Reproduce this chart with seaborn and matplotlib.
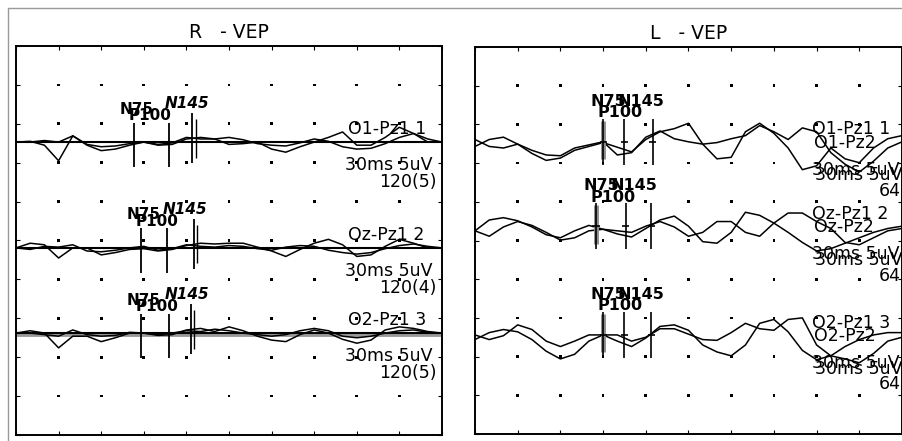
import numpy as np
import pandas as pd
import matplotlib
matplotlib.use("Agg")
import matplotlib.pyplot as plt
from matplotlib.lines import Line2D
import seaborn as sns

# ---------------- data ----------------
times = list(range(0, 301, 10))          # ms, 30 ms / division
UV_PER_DIV = 5                            # 5 uV / division

# Right eye (R - VEP), two sweeps per channel, values in uV
R_O1_a = [0, 0.1, -0.4, -2.4, 0.8, -0.4, -1.1, -0.9, -0.4, 0, -0.4, -0.3, 0.4, 0.6, 0.4, -0.3,
          -0.2, 0, -0.9, -1.3, -0.6, 0, 0.6, 1.3, -0.4, -0.4, 0.6, 1.9, 1.1, 0, 0]
R_O1_b = [0, 0, 0.2, 0, 0.8, -0.3, -0.6, -0.5, -0.2, 0, -0.3, -0.1, 0.6, 0.4, 0.4, 0.6,
          0.3, -0.2, -0.4, -0.5, -0.1, 0.4, 0.1, -0.6, -0.9, -0.8, -0.2, 0.6, 1.1, 0.4, 0]
R_Oz_a = [0, 0.6, 0.4, -1.3, 0, 0, -0.9, -0.6, -0.2, -0.1, -0.4, -0.2, 0.3, 0.6, 0.5, 0.6,
          0.6, 0.1, -0.4, -1.1, -0.2, 0.6, 1.1, 0.4, -1.1, -0.9, 0.2, 1.1, 0.6, 0, 0]
R_Oz_b = [0, -0.2, 0.2, 0.1, 0.4, -0.4, -0.5, -0.3, 0, 0.2, -0.3, -0.1, 0.4, 0.2, 0.1, 0.3,
          0.2, -0.1, -0.3, 0.1, 0.3, 0.2, -0.3, -0.6, -0.8, -0.6, -0.1, 0.3, 0.5, 0.2, 0]
R_O2_a = [0, 0.3, 0, -1.9, -0.4, -0.4, -1.1, -0.6, 0, 0, -0.3, -0.2, 0.4, 0.6, 0.2, 0.8,
          0.3, -0.4, -0.9, -1.1, -0.2, 0.4, 0, -0.8, -1.3, -0.9, 0.4, 0.8, 0.6, 0.2, 0]
R_O2_b = [0, 0, -0.2, -0.4, 0.4, -0.2, -0.4, -0.3, 0.1, 0, -0.2, 0, 0.3, 0.2, 0.5, 0.3,
          0, -0.2, -0.4, -0.2, 0.3, 0.6, 0.3, -0.4, -0.6, -0.4, 0, 0.3, 0.4, 0.1, 0]

# Left eye (L - VEP)
L_O1_a = [-0.6, 0.3, 0.6, -0.3, -1.5, -2.4, -2.1, -1.1, -0.6, -0.1, -0.7, -1.3, 0.3, 1.3, 1.7, 2.4,
          -0.3, -2.2, -2.0, 1.3, 2.4, 1.1, -0.8, -3.6, -3.1, -0.8, -2.2, -2.7, -0.8, 0.4, 0.8]
L_O1_b = [0.3, -0.6, -0.8, -0.3, -1.1, -1.7, -1.8, -0.8, -0.4, 0, -1.7, -1.4, 0.6, 1.4, 0.4, 0,
          -0.3, -0.1, 0.4, 0.8, 2.1, 1.3, 0.3, 1.8, 1.3, -1.4, -2.9, -3.9, -2.5, -0.8, 0]
L_Oz_a = [-0.6, 0.8, 1.1, 0.7, -0.1, -1.1, -1.5, -0.6, 0.1, -0.4, -1.0, -1.4, -0.3, 0.8, 1.3, 0,
          -2.0, -2.2, -0.8, 1.8, 1.4, 0.4, -0.8, -2.1, -3.2, -2.9, -2.2, -1.5, -0.8, -0.3, 0]
L_Oz_b = [-0.6, -1.3, -0.1, 0.6, 0.1, -0.8, -1.8, -1.5, -0.6, -0.4, -0.6, -0.8, 0, 0.6, -0.1, -1.3,
          -0.8, 0.6, 0.6, -0.8, -1.3, 0.4, 1.7, 1.7, 0.6, -0.3, -2.1, -2.4, -1.5, -0.6, -0.3]
L_O2_a = [-0.6, 0.3, 0.7, 0.4, -0.6, -2.1, -3.1, -2.5, -0.8, 0, -0.8, -1.5, -0.4, 1.1, 1.3, 0.6,
          -1.3, -2.2, -2.7, -1.3, 1.5, 2.0, 0.4, -2.0, -3.2, -2.7, -1.5, -0.6, 0, 0.3, 0.3]
L_O2_b = [0, -0.6, -0.1, 1.3, 0.7, -0.8, -1.5, -0.8, 0, 0, 0, -0.8, -0.3, 0.8, 0.8, 0.1,
          -0.6, -0.7, 0.3, 1.5, 0.8, 0.6, 2.0, 2.2, -1.3, -2.7, -3.1, -3.6, -2.4, -0.8, -0.3]

# trace baselines (in divisions from the bottom)
R_baselines = [7.53, 4.81, 2.62]
L_baselines = [7.55, 5.37, 2.56]

# marker latencies (ms) for N75, P100, N145
R_latencies = [[83, 108, 124], [88, 106, 125], [88, 108, 123]]
L_latencies = [[90, 105, 125], [85, 106, 124], [90, 105, 124]]
peak_names = ["N75", "P100", "N145"]

R_channels = ["O1-Pz1 1", "Oz-Pz1 2", "O2-Pz1 3"]
L_channels = ["O1-Pz1 1", "Oz-Pz1 2", "O2-Pz1 3"]
L_channels2 = ["O1-Pz2", "Oz-Pz2", "O2-Pz2"]
R_counts = ["120(5)", "120(4)", "120(5)"]
L_counts = ["64", "64", "64"]
scale_label = "30ms 5uV"

# ---------------- figure ----------------
sns.set_theme(style="white")
plt.rcParams["font.family"] = ["DejaVu Sans"]
plt.rcParams["text.color"] = "black"

W, H = 903, 441
fig = plt.figure(figsize=(W / 100, H / 100), dpi=100)
fig.patch.set_facecolor("white")

def fx(px):
    return px / W

def fy(py):
    return 1 - py / H

axL = fig.add_axes([fx(16), fy(435), 426 / W, 389 / H])
axR = fig.add_axes([fx(475), fy(434), 427 / W, 387 / H])

# outer gray frame
fig.add_artist(Line2D([fx(8), 1], [fy(8), fy(8)], color="0.6", lw=1))
fig.add_artist(Line2D([fx(8), fx(8)], [fy(8), 0], color="0.6", lw=1))


def build_df(traces, baselines):
    rows = []
    for ch, (a, b) in enumerate(traces):
        for name, vals in (("a", a), ("b", b)):
            for t, v in zip(times, vals):
                rows.append({"time": t, "y": baselines[ch] + v / UV_PER_DIV,
                             "trace": f"{ch}{name}"})
    return pd.DataFrame(rows)


def style_axes(ax):
    ax.set_xlim(0, 300)
    ax.set_ylim(0, 10)
    ax.set_xticks(np.arange(0, 301, 30))
    ax.set_yticks(np.arange(0, 11, 1))
    ax.tick_params(direction="in", length=3, width=0.8, color="black",
                   top=True, right=True, bottom=True, left=True,
                   labelbottom=False, labelleft=False)
    for s in ax.spines.values():
        s.set_color("black")
        s.set_linewidth(1.4)
    gx, gy = np.meshgrid(np.arange(30, 300, 30), np.arange(1, 10, 1))
    dots = pd.DataFrame({"x": gx.ravel(), "y": gy.ravel()})
    sns.scatterplot(data=dots, x="x", y="y", marker="s", s=4, color="black",
                    edgecolor="none", ax=ax, zorder=1)
    ax.set_xlabel("")
    ax.set_ylabel("")


def ctext(ax, x, y, s, **kw):
    t = ax.text(x, y, s, va="center", ha="left", color="black", **kw)
    t.set_clip_box(ax.bbox)
    t.set_clip_on(True)
    return t


# ---------- R panel ----------
style_axes(axL)
dfR = build_df([(R_O1_a, R_O1_b), (R_Oz_a, R_Oz_b), (R_O2_a, R_O2_b)], R_baselines)
for i, b in enumerate(R_baselines):
    if i == 2:
        axL.axhline(b - 0.03, color="0.6", lw=3.5, zorder=1.5)
    axL.axhline(b, color="black", lw=1.5, zorder=2)
sns.lineplot(data=dfR, x="time", y="y", units="trace", estimator=None,
             color="black", lw=1.1, ax=axL, zorder=3, legend=False)
axL.set_xlabel("")
axL.set_ylabel("")
axL.set_title("R   - VEP", fontsize=13.5, pad=6, color="black")

for ch in range(3):
    b = R_baselines[ch]
    lat = R_latencies[ch]
    for j, t in enumerate(lat):
        up, dn = (0.5, 0.65) if j < 2 else (0.75, 0.55)
        axL.vlines(t, b - dn, b + up, color="black", lw=1.3, zorder=4)
        axL.hlines(b, t - 2.5, t + 2.5, color="black", lw=1.3, zorder=4)
    axL.vlines(lat[2] + 2.5, b - 0.4, b + 0.6, color="black", lw=1.0, zorder=4)
    ty = b + 0.9
    ctext(axL, lat[0] - 10, ty - 0.05, peak_names[0], fontsize=11, fontweight="bold")
    ctext(axL, lat[0] - 4, ty - 0.22, peak_names[1], fontsize=11, fontweight="bold")
    ctext(axL, lat[1] - 3, ty + 0.08, peak_names[2], fontsize=11, fontweight="bold",
          style="italic")
    ctext(axL, 234, b + 0.33, R_channels[ch], fontsize=12.5)
    ctext(axL, 232, b - 0.6, scale_label, fontsize=12.5)
    ctext(axL, 256, b - 1.02, R_counts[ch], fontsize=12.5)

# ---------- L panel ----------
style_axes(axR)
dfL = build_df([(L_O1_a, L_O1_b), (L_Oz_a, L_Oz_b), (L_O2_a, L_O2_b)], L_baselines)
sns.lineplot(data=dfL, x="time", y="y", units="trace", estimator=None,
             color="black", lw=1.1, ax=axR, zorder=3, legend=False)
axR.set_xlabel("")
axR.set_ylabel("")
axR.set_title("L   - VEP", fontsize=13.5, pad=6, color="black")

for ch in range(3):
    b = L_baselines[ch]
    lat = L_latencies[ch]
    axR.vlines(lat[0], b - 0.45, b + 0.55, color="0.55", lw=3.5, zorder=3.5)
    for j, t in enumerate(lat):
        axR.vlines(t, b - 0.6, b + 0.6, color="black", lw=1.2, zorder=4)
        axR.hlines(b, t - 2.5, t + 2.5, color="black", lw=1.2, zorder=4)
    ty = b + 1.05
    ctext(axR, lat[0] - 9, ty, peak_names[0], fontsize=11.5, fontweight="bold")
    ctext(axR, lat[0] + 10, ty, peak_names[2], fontsize=11.5, fontweight="bold")
    ctext(axR, lat[0] - 4, ty - 0.3, peak_names[1], fontsize=11.5, fontweight="bold")
    ctext(axR, 237, b + 0.32, L_channels[ch], fontsize=12.5)
    ctext(axR, 238, b - 0.02, L_channels2[ch], fontsize=12.5)
    ctext(axR, 237, b - 0.72, scale_label, fontsize=12.5)
    ctext(axR, 239, b - 0.87, scale_label, fontsize=12.5)
    ctext(axR, 284, b - 1.28, L_counts[ch], fontsize=12.5)

fig.savefig("out.png", dpi=100, facecolor="white")
